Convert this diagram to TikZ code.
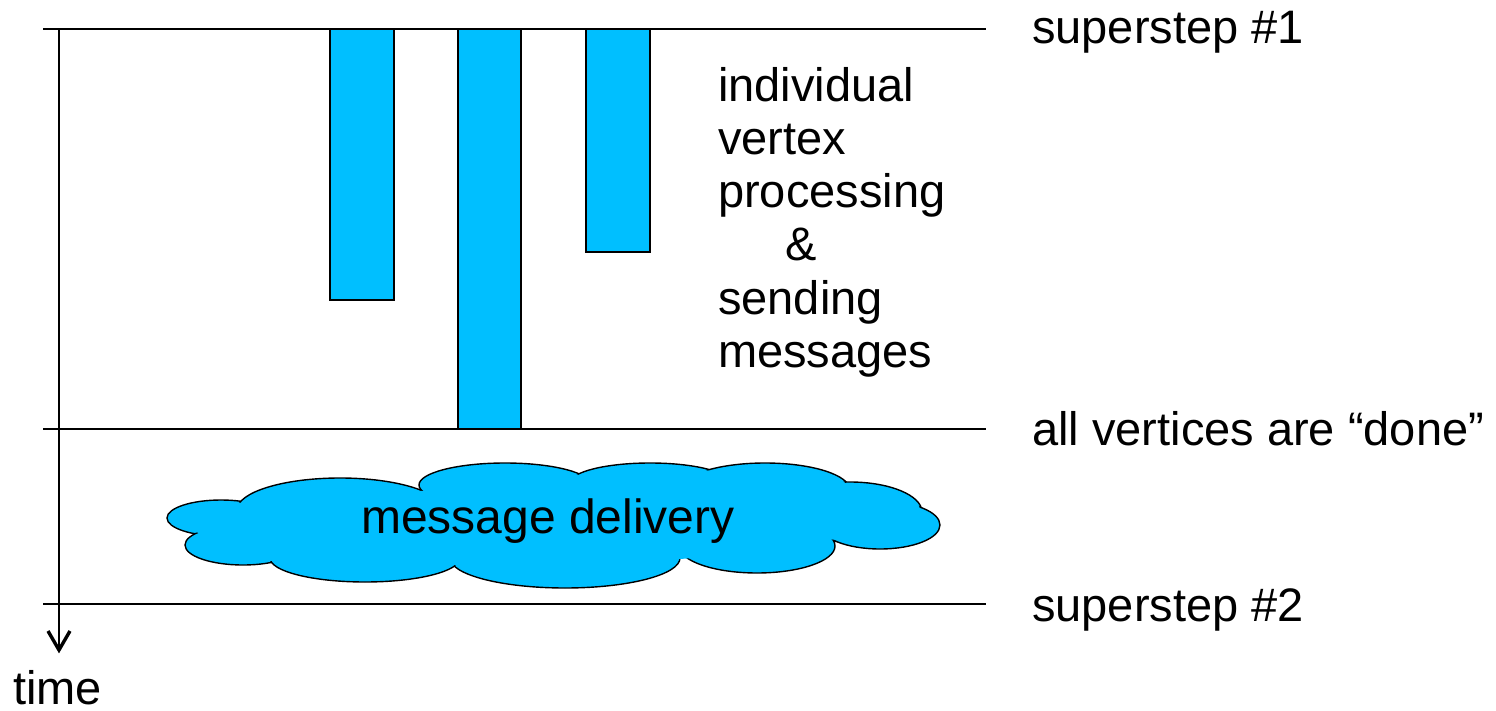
\documentclass[tikz,border=0pt]{standalone}
\usepackage{fontspec}
\setmainfont{Liberation Sans}
\definecolor{barblue}{RGB}{0,191,255}
\tikzset{
  rule/.style={line width=1.6pt,black},
  bar/.style={fill=barblue,draw=black,line width=1.2pt},
  lbl/.style={anchor=base west,inner sep=0pt,font=\fontsize{47}{53}\selectfont},
  puff/.style={fill=barblue,draw=black,line width=1.4pt},
  pufffill/.style={fill=barblue}
}
\begin{document}
\begin{tikzpicture}[x=1pt,y=-1pt]
\useasboundingbox (0,0) rectangle (1496,711);
% horizontal rules
\coordinate (l1a) at (43,29);  \coordinate (l1b) at (986,29);
\coordinate (l2a) at (43,429); \coordinate (l2b) at (986,429);
\coordinate (l3a) at (43,604); \coordinate (l3b) at (986,604);
\draw[rule] (l1a) -- (l1b);
\draw[rule] (l2a) -- (l2b);
\draw[rule] (l3a) -- (l3b);
% time axis
\coordinate (ax0) at (59,29);
\coordinate (ax1) at (59,650);
\coordinate (hl) at (48,631);
\coordinate (hr) at (70,631);
\draw[rule] (ax0) -- (ax1);
\draw[line width=3.4pt,line join=miter] (hl) -- (ax1) -- (hr);
\node[lbl] (time) at (13,704) {time};
% bars
\draw[bar] (330,29) rectangle (394,300);
\draw[bar] (458,29) rectangle (521,429);
\draw[bar] (586,29) rectangle (650,252);
% text block
\node[lbl] (t1) at (718,102) {individual};
\node[lbl] (t2) at (718,155) {vertex};
\node[lbl] (t3) at (718,208) {processing};
\node[lbl] (t4) at (785,261) {\&};
\node[lbl] (t5) at (718,314) {sending};
\node[lbl] (t6) at (718,367) {messages};
% right labels
\node[lbl] (s1) at (1032,44) {superstep \#1};
\node[lbl] (s2) at (1032,445) {all vertices are “done”};
\node[lbl] (s3) at (1032,621) {superstep \#2};
% cloud
\def\pufflist{221/518/54/18, 243/545/58/20, 340/510/103/32, 505/485/86/22, 650/483/80/20, 765/490/85/27, 850/512/72/30, 880/525/60/24, 757/546/78/27, 565/558/115/30, 365/558/95/24}
\foreach \cx/\cy/\rx/\ry in \pufflist
  \draw[puff] (\cx,\cy) ellipse ({\rx} and {\ry});
\foreach \cx/\cy/\rx/\ry in \pufflist
  \fill[pufffill] (\cx,\cy) ellipse ({\rx-1.6} and {\ry-1.6});
\fill[pufffill] (550,525) ellipse (290 and 38);
\node[font=\fontsize{48}{54}\selectfont,inner sep=0pt] (md) at (548,521) {message delivery};
\end{tikzpicture}
\end{document}
